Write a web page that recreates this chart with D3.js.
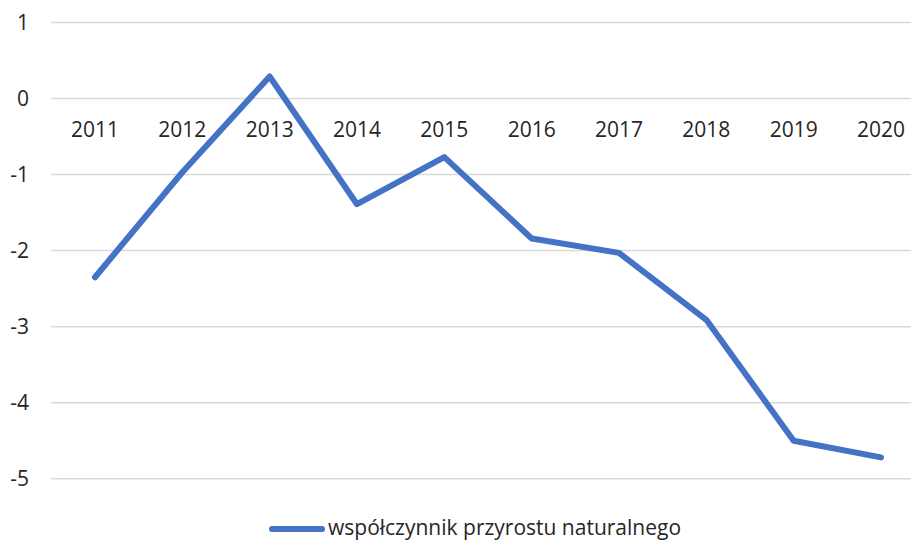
<!DOCTYPE html>
<html>
<head>
<meta charset="utf-8">
<script src="https://cdn.jsdelivr.net/npm/d3@7"></script>
<style>
  body { margin: 0; background: #fff; }
  svg { display: block; font-family: "Open Sans", sans-serif; }
</style>
</head>
<body>
<svg id="chart" width="911" height="541"></svg>
<script>
"use strict";

const years = ["2011", "2012", "2013", "2014", "2015", "2016", "2017", "2018", "2019", "2020"];
const values = [-2.35, -0.97, 0.29, -1.39, -0.77, -1.84, -2.03, -2.91, -4.5, -4.72];
const yTicks = [1, 0, -1, -2, -3, -4, -5];
const seriesName = "współczynnik przyrostu naturalnego";

const svg = d3.select("#chart");
const width = 911;
const fontSize = 21;

const x = d3.scalePoint().domain(years).range([95, 881]);
const y = d3.scaleLinear().domain([-5, 1]).range([478.7, 22.5]);

// gridlines
svg.append("g")
  .selectAll("line")
  .data(yTicks)
  .enter()
  .append("line")
  .attr("x1", 51)
  .attr("x2", width)
  .attr("y1", (d) => y(d))
  .attr("y2", (d) => y(d))
  .attr("stroke", "#d9d9d9")
  .attr("stroke-width", 1.5);

// y axis labels (plain hyphen minus like the original)
const yAxis = d3.axisLeft(y)
  .tickValues(yTicks)
  .tickFormat((d) => String(d))
  .tickSize(0)
  .tickPadding(0);
svg.append("g")
  .attr("transform", "translate(29,0)")
  .call(yAxis)
  .call((g) => g.select(".domain").remove())
  .selectAll("text")
  .attr("font-family", "Open Sans")
  .attr("font-size", fontSize)
  .attr("fill", "#262626");

// category labels next to the zero line
svg.append("g")
  .selectAll("text")
  .data(years)
  .enter()
  .append("text")
  .attr("x", (d) => x(d))
  .attr("y", 137)
  .attr("text-anchor", "middle")
  .attr("font-size", fontSize)
  .attr("fill", "#262626")
  .text((d) => d);

// series line
const line = d3.line()
  .x((d, i) => x(years[i]))
  .y((d) => y(d));

svg.append("path")
  .datum(values)
  .attr("d", line)
  .attr("fill", "none")
  .attr("stroke", "#4472c4")
  .attr("stroke-width", 6)
  .attr("stroke-linejoin", "round")
  .attr("stroke-linecap", "round");

// legend
const legend = svg.append("g").attr("transform", "translate(272,529)");
legend.append("line")
  .attr("x1", 0)
  .attr("x2", 50)
  .attr("stroke", "#4472c4")
  .attr("stroke-width", 6)
  .attr("stroke-linecap", "round");
legend.append("text")
  .attr("x", 56)
  .attr("y", 6)
  .attr("font-size", fontSize)
  .attr("fill", "#262626")
  .text(seriesName);
</script>
</body>
</html>
